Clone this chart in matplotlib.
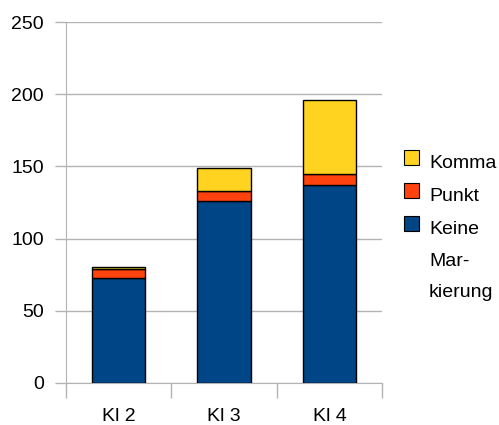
import matplotlib
matplotlib.use("Agg")
import matplotlib.pyplot as plt
from matplotlib.patches import Rectangle
import numpy as np

plt.rcParams['font.family'] = ['Liberation Sans', 'DejaVu Sans']

categories = ["Kl 2", "Kl 3", "Kl 4"]
keine = [73, 126, 137]
punkt = [6, 7, 8]
komma = [1, 16, 51]
series_labels = ["Keine\nMar-\nkierung", "Punkt", "Komma"]
colors = ["#004586", "#ff420e", "#ffd320"]
yticks = [0, 50, 100, 150, 200, 250]

fig = plt.figure(figsize=(4.99, 4.25), dpi=100)
ax = fig.add_axes([0.132, 0.099, 0.634, 0.849])

x = np.arange(len(categories))
bottom = np.zeros(len(categories))
for vals, col in zip([keine, punkt, komma], colors):
    ax.bar(x, vals, width=0.51, bottom=bottom, color=col,
           edgecolor="black", linewidth=1.0, zorder=3)
    bottom += np.array(vals)

ax.set_xlim(-0.5, len(categories) - 0.5)
ax.set_ylim(0, 250)
ax.set_yticks(yticks)
ax.yaxis.grid(True, color="#b3b3b3", linewidth=1.0, zorder=0)
ax.set_axisbelow(True)

# category labels centred, tick marks between categories
ax.set_xticks(x)
ax.set_xticklabels(categories, fontsize=14)
ax.tick_params(axis="x", length=0, pad=18)
ax.set_xticks(np.arange(-0.5, len(categories)), minor=True)
ax.tick_params(axis="x", which="minor", length=11, color="#b3b3b3", width=1)
ax.tick_params(axis="y", length=8, color="#b3b3b3", width=1, pad=8, labelsize=14)

for s in ["top", "right"]:
    ax.spines[s].set_visible(False)
for s in ["left", "bottom"]:
    ax.spines[s].set_color("#b3b3b3")

# legend (stacking order, top series first)
W, H = 499, 425
leg_items = [(series_labels[2], colors[2], 157.5), (series_labels[1], colors[1], 190),
             (series_labels[0], colors[0], 223.5)]
for lab, col, yc in leg_items:
    fig.patches.append(Rectangle((404 / W, (H - yc - 7.5) / H), 15 / W, 15 / H,
                                 transform=fig.transFigure, facecolor=col,
                                 edgecolor="black", linewidth=0.8))
    for i, line in enumerate(lab.split("\n")):
        base = yc + 10.5 + i * 31.5
        fig.text(429 / W, (H - base) / H, line, fontsize=14, va="baseline",
                 ha="left")

fig.savefig("out.png", dpi=100)
